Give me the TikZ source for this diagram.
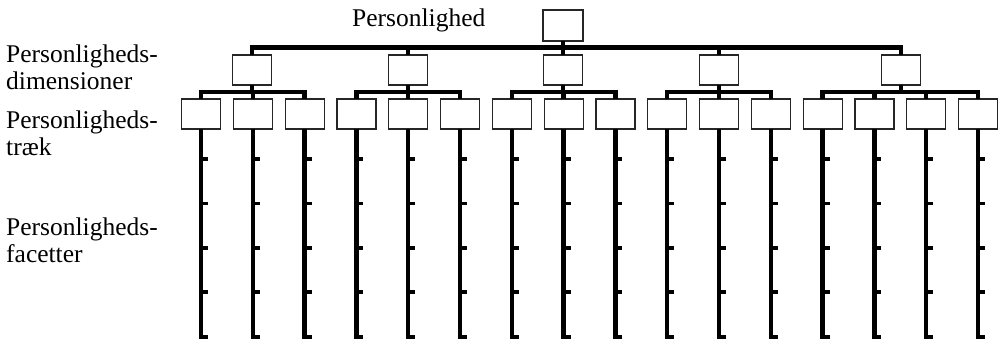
\documentclass[tikz,border=0pt]{standalone}
\usepackage{fontspec}
\setmainfont{Liberation Serif}
\usepackage{tikz}
\usetikzlibrary{calc}
\def\fsize{25.5}

\begin{document}
\begin{tikzpicture}[x=1pt, y=-1pt,
  box/.style={draw=black!85, line width=1.2pt, fill=white, minimum width=39pt, minimum height=30pt, inner sep=0pt, outer sep=0pt},
  tree/.style={line width=4.5pt, black},
  lbl/.style={anchor=base west, inner sep=0pt, font=\fontsize{\fsize}{27}\selectfont}]
  \useasboundingbox (0,0) rectangle (1003,340);

  \node[box, minimum width=40pt, minimum height=31pt] (root) at (563,25.5) {};
  \foreach \n/\x in {1/252, 2/408, 3/563, 4/719, 5/901}
    \node[box] (d\n) at (\x,70) {};
  \foreach \i in {1,...,16}
    \node[box] (t\i) at ({201+51.8*(\i-1)},114) {};

  % root -> dimensions
  \foreach \n in {1,...,5}
    \draw[tree] (root.south) -- ++(0,6.5) -| (d\n.north);
  % dimensions -> traits
  \foreach \n/\t in {1/1,1/2,1/3, 2/4,2/5,2/6, 3/7,3/8,3/9, 4/10,4/11,4/12, 5/13,5/14,5/15,5/16}
    \draw[tree] (d\n.south) -- ++(0,7) -| (t\t.north);

  % traits -> facets
  \foreach \i in {1,...,16} {
    \coordinate (f\i) at (t\i.south |- 0,337);
    \draw[tree] (t\i.south) -- (f\i) -- ++(7,0);
    \foreach \y in {159,203.5,248,292}
      \draw[tree, line width=3.5pt] (t\i.south |- 0,\y) -- ++(7,0);
  }

  \node[lbl] (top) at (352,27) {Personlighed};
  \node[lbl] (dimA) at (6,62) {Personligheds-};
  \node[lbl] (dimB) at (6,89) {dimensioner};
  \node[lbl] (traitA) at (6,128) {Personligheds-};
  \node[lbl] (traitB) at (6,155) {træk};
  \node[lbl] (facA) at (6,235) {Personligheds-};
  \node[lbl] (facB) at (6,262) {facetter};
\end{tikzpicture}
\end{document}
